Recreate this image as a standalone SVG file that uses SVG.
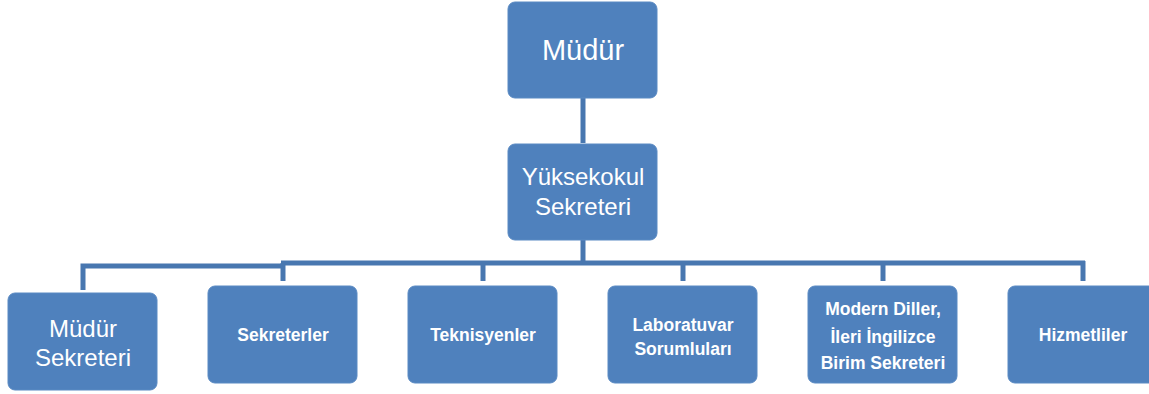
<svg xmlns="http://www.w3.org/2000/svg" width="1149" height="394" viewBox="0 0 1149 394">
<style>
.box{fill:#4F81BD;stroke:#5a8ac3;stroke-width:1}
.t{fill:#ffffff;font-family:"Liberation Sans",Arial,sans-serif;text-anchor:middle}
.s{font-size:17.5px;font-weight:bold}
.m{font-size:24px}
.l{font-size:29px}
.c{stroke:#4877b0;fill:none;stroke-width:5}
</style>
<rect width="1149" height="394" fill="#ffffff"/>
<g id="connectors">
<line class="c" x1="583" y1="98" x2="583" y2="143"/>
<line class="c" x1="583" y1="240" x2="583" y2="264"/>
<polyline class="c" stroke-width="4" points="83,290 83,266 283,266"/>
<line class="c" x1="281" y1="263" x2="1085" y2="263"/>
<line class="c" x1="283" y1="263" x2="283" y2="281"/>
<line class="c" x1="483" y1="263" x2="483" y2="281"/>
<line class="c" x1="683" y1="263" x2="683" y2="281"/>
<line class="c" x1="883" y1="263" x2="883" y2="281"/>
<line class="c" x1="1083" y1="261" x2="1083" y2="281"/>
</g>
<g id="mudur">
<rect class="box" x="508" y="2" width="149" height="96" rx="7"/>
<text class="t l" x="583" y="60">Müdür</text>
</g>
<g id="yuksekokul">
<rect class="box" x="508" y="144" width="149" height="96" rx="7"/>
<text class="t m" x="583" y="185">Yüksekokul</text>
<text class="t m" x="583" y="215">Sekreteri</text>
</g>
<g id="mudur-sekreteri">
<rect class="box" x="8" y="293" width="149" height="97" rx="7"/>
<text class="t m" x="83" y="337">Müdür</text>
<text class="t m" x="83" y="366">Sekreteri</text>
</g>
<g id="sekreterler">
<rect class="box" x="208" y="286" width="149" height="97" rx="7"/>
<text class="t s" x="283" y="341">Sekreterler</text>
</g>
<g id="teknisyenler">
<rect class="box" x="408" y="286" width="149" height="97" rx="7"/>
<text class="t s" x="483" y="341">Teknisyenler</text>
</g>
<g id="laboratuvar">
<rect class="box" x="608" y="286" width="149" height="97" rx="7"/>
<text class="t s" x="683" y="331">Laboratuvar</text>
<text class="t s" x="683" y="355">Sorumluları</text>
</g>
<g id="modern-diller">
<rect class="box" x="808" y="286" width="149" height="97" rx="7"/>
<text class="t s" x="883" y="315">Modern Diller,</text>
<text class="t s" x="883" y="343">İleri İngilizce</text>
<text class="t s" x="883" y="369">Birim Sekreteri</text>
</g>
<g id="hizmetliler">
<rect class="box" x="1008" y="286" width="149" height="97" rx="7"/>
<text class="t s" x="1083" y="341">Hizmetliler</text>
</g>
</svg>
